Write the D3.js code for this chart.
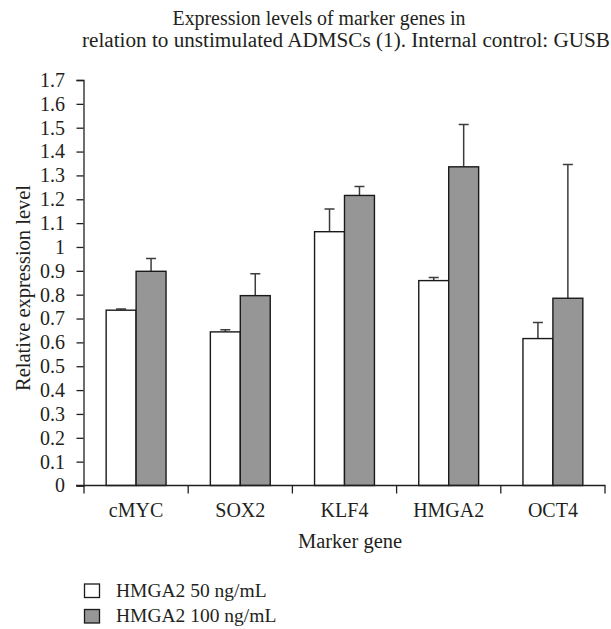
<!DOCTYPE html>
<html>
<head>
<meta charset="utf-8">
<script src="https://cdn.jsdelivr.net/npm/d3@7"></script>
<style>
  body { margin: 0; background: #fff; }
  text { font-family: "Liberation Serif", "Times New Roman", serif; fill: #231f20; }
</style>
</head>
<body>
<div id="graph"></div>
<script>
// data
var categories = ["cMYC", "SOX2", "KLF4", "HMGA2", "OCT4"];
var series = ["HMGA2 50 ng/mL", "HMGA2 100 ng/mL"];
var low = [0.735, 0.644, 1.064, 0.859, 0.616];
var lowErr = [0.005, 0.009, 0.095, 0.013, 0.067];
var high = [0.898, 0.796, 1.216, 1.336, 0.785];
var highErr = [0.054, 0.092, 0.038, 0.177, 0.561];
var yTicks = [0, 0.1, 0.2, 0.3, 0.4, 0.5, 0.6, 0.7, 0.8, 0.9, 1, 1.1, 1.2, 1.3, 1.4, 1.5, 1.6, 1.7];
var fills = ["#ffffff", "#969696"];

var w = 611, h = 629;
var vis = d3.select("#graph").append("svg")
  .attr("width", w)
  .attr("height", h);

var x = d3.scaleBand().domain(categories).range([84, 605]);
var bw = x.bandwidth();
var x1 = d3.scaleBand().domain(series).range([0, bw]).paddingInner(0).paddingOuter(0.74);
var y = d3.scaleLinear().domain([0, 1.7]).range([485.5, 80]);

// title
vis.append("text").attr("x", 319).attr("y", 25).attr("text-anchor", "middle")
  .attr("textLength", 293).attr("lengthAdjust", "spacingAndGlyphs")
  .style("font-size", "20px").text("Expression levels of marker genes in");
vis.append("text").attr("x", 346).attr("y", 47).attr("text-anchor", "middle")
  .attr("textLength", 528).attr("lengthAdjust", "spacingAndGlyphs")
  .style("font-size", "20px").text("relation to unstimulated ADMSCs (1). Internal control: GUSB");

// y axis
var yAxis = d3.axisLeft(y).tickValues(yTicks).tickSize(7).tickPadding(11.5)
  .tickFormat(function(d) { return String(+d.toFixed(1)); });
var gy = vis.append("g").attr("transform", "translate(83.5,0)").call(yAxis);
gy.select(".domain").attr("stroke", "#231f20").attr("stroke-width", 1.3);
gy.selectAll(".tick line").attr("stroke", "#231f20").attr("stroke-width", 1.3);
gy.selectAll(".tick text").style("font-size", "20px")
  .style("font-family", "'Liberation Serif', serif").attr("fill", "#231f20");

vis.append("text")
  .attr("transform", "translate(30,288) rotate(-90)")
  .attr("text-anchor", "middle")
  .style("font-size", "20.5px")
  .text("Relative expression level");

// bars
var rows = categories.map(function(c, i) {
  return [
    {cat: c, s: series[0], v: low[i], e: lowErr[i], f: fills[0]},
    {cat: c, s: series[1], v: high[i], e: highErr[i], f: fills[1]}
  ];
});

var groups = vis.selectAll(".grp")
  .data(rows)
  .enter()
  .append("g")
  .attr("class", "grp")
  .attr("transform", function(d) { return "translate(" + x(d[0].cat) + ",0)"; });

var errCap = 5;
groups.selectAll(".err")
  .data(function(d) { return d; })
  .enter()
  .append("path")
  .attr("class", "err")
  .attr("d", function(d) {
    var cx = x1(d.s) + x1.bandwidth() / 2;
    var t = y(d.v + d.e);
    return "M" + cx + "," + y(d.v) + "V" + t + "M" + (cx - errCap) + "," + t + "H" + (cx + errCap);
  })
  .attr("stroke", "#3c3c3c")
  .attr("stroke-width", 1.5)
  .attr("fill", "none");

groups.selectAll(".bar")
  .data(function(d) { return d; })
  .enter()
  .append("rect")
  .attr("class", "bar")
  .attr("x", function(d) { return x1(d.s); })
  .attr("y", function(d) { return y(d.v); })
  .attr("width", x1.bandwidth())
  .attr("height", function(d) { return y(0) - y(d.v); })
  .attr("fill", function(d) { return d.f; })
  .attr("stroke", "#1a1a1a")
  .attr("stroke-width", 1.4);

// x axis
var gx = vis.append("g");
gx.append("line")
  .attr("x1", 76).attr("x2", 605.5)
  .attr("y1", y(0)).attr("y2", y(0))
  .attr("stroke", "#231f20").attr("stroke-width", 1.3);
var bounds = categories.map(function(c) { return x(c); }).concat([x.range()[1]]);
gx.selectAll(".xt")
  .data(bounds)
  .enter()
  .append("line")
  .attr("x1", function(d) { return d; })
  .attr("x2", function(d) { return d; })
  .attr("y1", y(0))
  .attr("y2", y(0) + 8)
  .attr("stroke", "#231f20").attr("stroke-width", 1.3);
gx.selectAll(".xl")
  .data(categories)
  .enter()
  .append("text")
  .attr("x", function(d) { return x(d) + bw / 2; })
  .attr("y", 517)
  .attr("text-anchor", "middle")
  .style("font-size", "20px")
  .text(function(d) { return d; });

vis.append("text").attr("x", 350).attr("y", 548).attr("text-anchor", "middle")
  .style("font-size", "20.5px").text("Marker gene");

// legend
var lg = vis.selectAll(".lg")
  .data(series)
  .enter()
  .append("g")
  .attr("class", "lg")
  .attr("transform", function(d, i) { return "translate(84.5," + (584 + i * 25.5) + ")"; });
lg.append("rect")
  .attr("width", 15).attr("height", 13.5)
  .attr("fill", function(d, i) { return fills[i]; })
  .attr("stroke", "#1a1a1a").attr("stroke-width", 1.3);
lg.append("text")
  .attr("x", 31.5).attr("y", 12.5)
  .style("font-size", "19.5px")
  .text(function(d) { return d; });
</script>
</body>
</html>
